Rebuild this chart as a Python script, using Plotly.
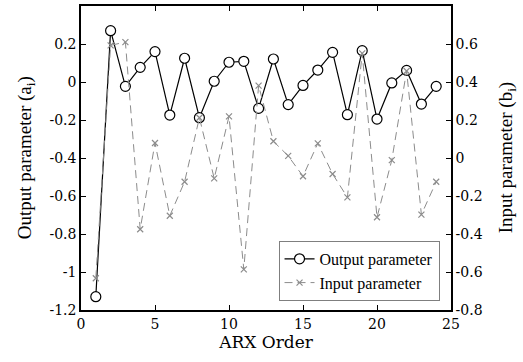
import plotly.graph_objects as go

# ARX model coefficients by order
order = list(range(1, 25))
output_param = [-1.13, 0.27, -0.023, 0.077, 0.16, -0.174, 0.125, -0.188, 0.004, 0.104,
                0.109, -0.139, 0.121, -0.119, -0.018, 0.063, 0.156, -0.172, 0.165, -0.195,
                -0.005, 0.061, -0.116, -0.023]
input_param = [-0.633, 0.593, 0.61, -0.375, 0.079, -0.304, -0.125, 0.212, -0.107, 0.219,
               -0.586, 0.381, 0.088, 0.011, -0.096, 0.077, -0.084, -0.207, 0.551, -0.312,
               -0.011, 0.458, -0.298, -0.125]

x_ticks = [0, 5, 10, 15, 20, 25]
x_labels = ["0", "5", "10", "15", "20", "25"]
left_ticks = [-1.2, -1.0, -0.8, -0.6, -0.4, -0.2, 0.0, 0.2]
left_labels = ["-1.2", "-1", "-0.8", "-0.6", "-0.4", "-0.2", "0", "0.2"]
right_ticks = [-0.8, -0.6, -0.4, -0.2, 0.0, 0.2, 0.4, 0.6]
right_labels = ["-0.8", "-0.6", "-0.4", "-0.2", "0", "0.2", "0.4", "0.6"]

FONT = "Liberation Serif"
AXIS_FONT = "DejaVu Serif"
GRAY = "#8c8c8c"

fig = go.Figure()
fig.add_trace(go.Scatter(
    x=order, y=output_param, name="Output parameter", mode="lines+markers",
    line=dict(color="black", width=1.2),
    marker=dict(symbol="circle", size=10, color="white", line=dict(color="black", width=1.2)),
    yaxis="y",
))
fig.add_trace(go.Scatter(
    x=order, y=input_param, name="Input parameter", mode="lines+markers",
    line=dict(color=GRAY, width=1, dash="8px,5px"),
    marker=dict(symbol="x-thin", size=6, color=GRAY, line=dict(color=GRAY, width=1.2)),
    yaxis="y2",
))


def axis_style(**extra):
    d = dict(
        showgrid=False, zeroline=False, showline=True, linecolor="black", linewidth=1.5,
        ticks="inside", ticklen=5, tickcolor="black", tickwidth=1,
        tickfont=dict(family=AXIS_FONT, size=14, color="black"),
    )
    d.update(extra)
    return d


title_font = dict(family=FONT, size=19, color="black")

fig.update_layout(
    template="none",
    width=523, height=362,
    margin=dict(l=81, r=72, t=6, b=52),
    paper_bgcolor="white", plot_bgcolor="white",
    font=dict(family=FONT, size=16, color="black"),
    showlegend=True,
    xaxis=axis_style(
        range=[0, 25], tickvals=x_ticks, ticktext=x_labels, mirror="ticks",
        title=dict(text="ARX Order", standoff=6,
                   font=dict(family=AXIS_FONT, size=17, color="black")),
    ),
    yaxis=axis_style(range=[-1.2, 0.4], tickvals=left_ticks, ticktext=left_labels),
    yaxis2=axis_style(range=[-0.8, 0.8], tickvals=right_ticks, ticktext=right_labels,
                      overlaying="y", side="right"),
    legend=dict(
        x=0.969, y=0.03, xanchor="right", yanchor="bottom",
        bgcolor="white", bordercolor="#7f7f7f", borderwidth=1,
        font=dict(family=FONT, size=16, color="black"),
        tracegroupgap=0, itemwidth=30,
    ),
    annotations=[
        dict(text="Output parameter (a<sub>i</sub>)", xref="paper", yref="paper",
             x=-0.148, y=0.5, xanchor="center", yanchor="middle", textangle=-90,
             showarrow=False, font=title_font),
        dict(text="Input parameter (b<sub>i</sub>)", xref="paper", yref="paper",
             x=1.152, y=0.5, xanchor="center", yanchor="middle", textangle=-90,
             showarrow=False, font=title_font),
    ],
)

fig.write_html("out.html")
